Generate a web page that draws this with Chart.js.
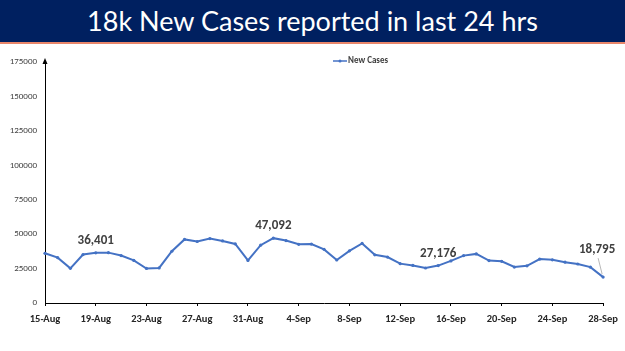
<!DOCTYPE html>
<html>
<head>
<meta charset="utf-8">
<script src="https://cdn.jsdelivr.net/npm/chart.js@4"></script>
<style>
  html, body { margin: 0; padding: 0; background: #fff; }
  body { width: 625px; height: 351px; overflow: hidden; position: relative; }
  .banner {
    height: 42px; background: #002060; color: #fff;
    font-family: Lato, "Open Sans", sans-serif; font-size: 27px;
    text-align: center; line-height: 42px;
    border-bottom: 2px solid #e8866a;
  }
  .wrap { position: absolute; left: 0; top: 44px; width: 625px; height: 307px; }
</style>
</head>
<body>
<div class="banner">18k New Cases reported in last 24 hrs</div>
<div class="wrap"><canvas id="chart"></canvas></div>
<script>
const dates = [
  "15-Aug","16-Aug","17-Aug","18-Aug","19-Aug","20-Aug","21-Aug","22-Aug","23-Aug",
  "24-Aug","25-Aug","26-Aug","27-Aug","28-Aug","29-Aug","30-Aug","31-Aug",
  "1-Sep","2-Sep","3-Sep","4-Sep","5-Sep","6-Sep","7-Sep","8-Sep","9-Sep","10-Sep",
  "11-Sep","12-Sep","13-Sep","14-Sep","15-Sep","16-Sep","17-Sep","18-Sep","19-Sep",
  "20-Sep","21-Sep","22-Sep","23-Sep","24-Sep","25-Sep","26-Sep","27-Sep","28-Sep"
];
const newCases = [
  36083, 32937, 25166, 35178, 36401, 36571, 34457, 30948, 25072,
  25467, 37593, 46164, 44658, 46759, 45083, 42909, 30941,
  41965, 47092, 45352, 42618, 42766, 38948, 31222, 37875, 43263, 34973,
  33376, 28591, 27254, 25404, 27176, 30570, 34403, 35662, 30773,
  30256, 26115, 26964, 31923, 31382, 29616, 28326, 26041, 18795
];
const tickLabels = ["15-Aug","19-Aug","23-Aug","27-Aug","31-Aug","4-Sep","8-Sep","12-Sep","16-Sep","20-Sep","24-Sep","28-Sep"];
const callouts = ["19-Aug", "2-Sep", "15-Sep", "28-Sep"];

const lineBlue = "#4472C4";

// labels, legend, arrow on the y axis
const extras = {
  id: "extras",
  afterDraw(c) {
    const ctx = c.ctx;
    const x = c.scales.x, y = c.scales.y;
    const area = c.chartArea;
    ctx.save();

    // arrow head on top of the y axis
    ctx.fillStyle = "#000";
    ctx.beginPath();
    ctx.moveTo(area.left, area.top - 4);
    ctx.lineTo(area.left - 2.5, area.top + 2);
    ctx.lineTo(area.left + 2.5, area.top + 2);
    ctx.closePath();
    ctx.fill();

    // legend
    ctx.strokeStyle = lineBlue;
    ctx.lineWidth = 1.5;
    ctx.beginPath();
    ctx.moveTo(333, 17);
    ctx.lineTo(347, 17);
    ctx.stroke();
    ctx.fillStyle = lineBlue;
    ctx.beginPath();
    ctx.arc(340, 17, 1.5, 0, Math.PI * 2);
    ctx.fill();
    ctx.fillStyle = "#404040";
    ctx.font = "bold 9px Carlito, Lato, sans-serif";
    ctx.textAlign = "left";
    ctx.textBaseline = "middle";
    ctx.fillText("New Cases", 348, 17);

    // value callouts
    ctx.font = "bold 13px Carlito, Lato, sans-serif";
    ctx.textAlign = "center";
    ctx.textBaseline = "middle";
    callouts.forEach(d => {
      const i = dates.indexOf(d);
      const px = x.getPixelForValue(i);
      const py = y.getPixelForValue(newCases[i]);
      const txt = newCases[i].toLocaleString("en-US");
      if (i === dates.length - 1) {
        ctx.strokeStyle = "#a6a6a6";
        ctx.lineWidth = 0.8;
        ctx.beginPath();
        ctx.moveTo(px - 5, py - 19);
        ctx.lineTo(px - 1, py - 3);
        ctx.stroke();
        ctx.fillStyle = "#404040";
        ctx.fillText(txt, px - 6, py - 27);
      } else {
        ctx.fillStyle = "#404040";
        ctx.fillText(txt, px, py - 12);
      }
    });
    ctx.restore();
  }
};

new Chart(document.getElementById("chart"), {
  type: "line",
  data: {
    labels: dates,
    datasets: [{
      label: "New Cases",
      data: newCases,
      borderColor: lineBlue,
      backgroundColor: lineBlue,
      borderWidth: 2,
      pointRadius: 1.6,
      pointBorderWidth: 0,
      pointBackgroundColor: lineBlue,
      tension: 0
    }]
  },
  options: {
    responsive: true,
    maintainAspectRatio: false,
    animation: false,
    layout: { padding: { top: 18, right: 21, left: 0, bottom: 0 } },
    plugins: {
      legend: { display: false },
      tooltip: { enabled: false }
    },
    scales: {
      x: {
        offset: false,
        afterFit: s => { s.height = 48; },
        border: { color: "#000", width: 1 },
        grid: {
          display: true,
          drawOnChartArea: false,
          tickLength: 3,
          tickColor: ctx => tickLabels.includes(dates[ctx.index]) ? "#000" : "rgba(0,0,0,0)"
        },
        ticks: {
          autoSkip: false,
          maxRotation: 0,
          padding: 7,
          color: "#262626",
          font: { family: "Carlito, Lato, sans-serif", size: 10.5, weight: "bold" },
          callback: (v, i) => tickLabels.includes(dates[i]) ? dates[i] : ""
        }
      },
      y: {
        min: 0,
        max: 175000,
        afterFit: s => { s.width = 45; },
        border: { color: "#000", width: 1 },
        grid: { display: false, drawTicks: false },
        ticks: {
          stepSize: 25000,
          padding: 8,
          color: "#404040",
          font: { family: "Carlito, Lato, sans-serif", size: 9 },
          callback: v => v
        }
      }
    }
  },
  plugins: [extras]
});
</script>
</body>
</html>
